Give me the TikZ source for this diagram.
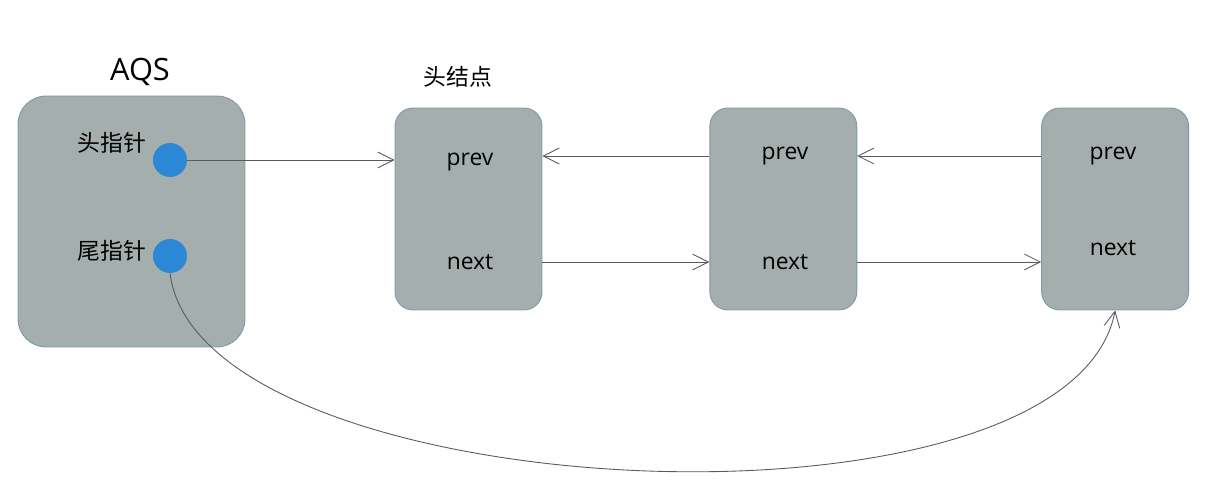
\documentclass[tikz,border=0pt]{standalone}
\usepackage{fontspec}
\setmainfont{Open Sans}
\newfontfamily\cjk{Noto Sans CJK SC}
\usetikzlibrary{arrows.meta, positioning, calc}
\definecolor{boxgray}{HTML}{A3AEAD}
\definecolor{boxedge}{HTML}{8397A8}
\definecolor{ptrblue}{HTML}{2D87D7}
\definecolor{linegray}{HTML}{595959}

\begin{document}
\begin{tikzpicture}[
    x=0.02cm, y=-0.02cm,
    font=\fontsize{13pt}{15pt}\selectfont,
    box/.style={
        draw=boxedge,
        fill=boxgray,
        rectangle,
        inner sep=0pt,
        line width=0.5pt
    },
    holder/.style={
        box,
        minimum width=4.54cm,
        minimum height=5.02cm,
        rounded corners=0.56cm
    },
    entry/.style={
        box,
        minimum width=2.94cm,
        minimum height=4.04cm,
        rounded corners=0.36cm
    },
    dot/.style={
        circle,
        fill=ptrblue,
        minimum size=0.68cm,
        inner sep=0pt
    },
    ptr/.style={
        -{Straight Barb[length=9pt,width=9pt]},
        line width=0.5pt,
        draw=linegray
    },
    label/.style={
        text=black,
        inner sep=0pt
    }
]
\useasboundingbox (0,0) rectangle (1216,502);

% AQS holder with its two pointers
\node[holder] (aqs) at (131.5,221.5) {};
\node[label, font=\fontsize{17.5pt}{20pt}\selectfont] (aqstitle) at (140,72) {AQS};
\node[label, font=\cjk\fontsize{13pt}{15pt}\selectfont] (headtxt) at (112,143) {头指针};
\node[label, font=\cjk\fontsize{13pt}{15pt}\selectfont] (tailtxt) at (112,251) {尾指针};
\node[dot] (hp) at (170,160) {};
\node[dot] (tp) at (170,256) {};

% queue nodes
\node[entry] (n1) at (468.5,209) {};
\node[entry, right=3.34cm of n1] (n2) {};
\node[entry, right=3.68cm of n2] (n3) {};
\node[label, font=\cjk\fontsize{13pt}{15pt}\selectfont] (headlbl) at (458,77) {头结点};

\node[label] (p1) at (470,162) {prev};
\node[label] (x1) at (470,262) {next};
\node[label] (p2) at (785,156) {prev};
\node[label] (x2) at (785,262) {next};
\node[label] (p3) at (1113,156) {prev};
\node[label] (x3) at (1113,248) {next};

\draw[ptr] (hp.east) -- (hp.east -| n1.west);
\draw[ptr] (n2.west |- p2) -- (n1.east |- p2);
\draw[ptr] (n3.west |- p3) -- (n2.east |- p3);
\draw[ptr] (n1.east |- x1) -- (n2.west |- x1);
\draw[ptr] (n2.east |- x2) -- (n3.west |- x2);
\draw[ptr] (tp.south) .. controls +(30,236) and +(-46,240) .. (n3.south);

\end{tikzpicture}
\end{document}
